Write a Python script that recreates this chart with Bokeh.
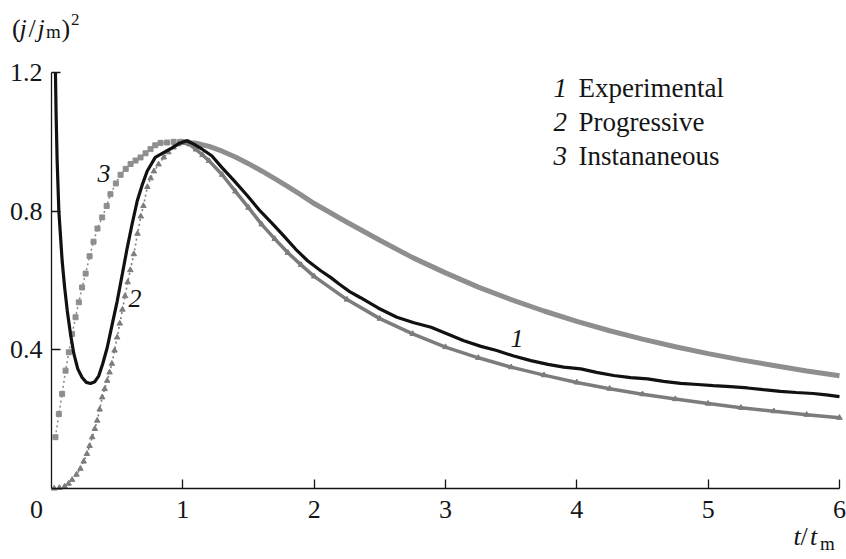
from bokeh.plotting import figure
from bokeh.models import FixedTicker, Label
from bokeh.embed import file_html
from bokeh.resources import INLINE

# ---------------- data ----------------
exp_t = [0.03, 0.035, 0.043, 0.056, 0.07, 0.081, 0.10, 0.12, 0.145, 0.17, 0.20, 0.233, 0.265,
         0.297, 0.33, 0.36, 0.39, 0.424, 0.46, 0.50, 0.54, 0.577, 0.615, 0.653, 0.69, 0.729,
         0.79, 0.85, 0.906, 0.97, 1.03, 1.08, 1.15, 1.22, 1.30, 1.39, 1.49, 1.59, 1.68, 1.77,
         1.86, 1.95, 2.05, 2.125, 2.19, 2.27, 2.35, 2.49, 2.63, 2.76, 2.89, 3.02, 3.14, 3.27,
         3.39, 3.52, 3.65, 3.78, 3.90, 4.03, 4.15, 4.28, 4.41, 4.54, 4.66, 4.79, 4.92, 5.04,
         5.17, 5.30, 5.42, 5.55, 5.67, 5.80, 5.90, 6.0]
exp_v = [1.2, 1.08, 0.945, 0.80, 0.72, 0.657, 0.58, 0.513, 0.445, 0.389, 0.345, 0.32, 0.306,
         0.303, 0.308, 0.325, 0.36, 0.406, 0.47, 0.54, 0.62, 0.695, 0.765, 0.83, 0.875, 0.916,
         0.955, 0.968, 0.98, 0.995, 1.003, 0.994, 0.978, 0.96, 0.925, 0.888, 0.845, 0.80, 0.765,
         0.728, 0.69, 0.657, 0.628, 0.609, 0.59, 0.568, 0.551, 0.52, 0.494, 0.478, 0.465, 0.445,
         0.426, 0.41, 0.398, 0.382, 0.369, 0.358, 0.35, 0.345, 0.335, 0.326, 0.32, 0.316, 0.309,
         0.303, 0.30, 0.297, 0.294, 0.29, 0.285, 0.28, 0.277, 0.274, 0.27, 0.265]

prog_t = [0.02, 0.06, 0.1, 0.13, 0.157, 0.19, 0.22, 0.245, 0.27, 0.29, 0.31, 0.33, 0.348, 0.367,
          0.386, 0.405, 0.424, 0.442, 0.46, 0.48, 0.50, 0.52, 0.54, 0.56, 0.58, 0.60, 0.627,
          0.655, 0.68, 0.70, 0.73, 0.755, 0.78, 0.815, 0.855, 0.89, 0.93, 0.965, 1.0,
          1.05, 1.1, 1.15, 1.2, 1.3, 1.4, 1.5, 1.6, 1.7, 1.8, 1.9, 2.0, 2.25, 2.5, 2.75, 3.0,
          3.25, 3.5, 3.75, 4.0, 4.25, 4.5, 4.75, 5.0, 5.25, 5.5, 5.75, 6.0]
prog_v = [0.0, 0.002, 0.006, 0.014, 0.025, 0.04, 0.057, 0.078, 0.10, 0.123, 0.148, 0.172, 0.196,
          0.228, 0.263, 0.287, 0.311, 0.335, 0.36, 0.398, 0.436, 0.476, 0.516, 0.555, 0.595,
          0.63, 0.676, 0.735, 0.785, 0.815, 0.87, 0.895, 0.915, 0.935, 0.955, 0.97, 0.984,
          0.993, 0.998, 0.993, 0.978, 0.962, 0.945, 0.905, 0.857, 0.81, 0.762, 0.72, 0.68,
          0.645, 0.612, 0.545, 0.49, 0.446, 0.408, 0.377, 0.35, 0.327, 0.306, 0.288, 0.272,
          0.258, 0.245, 0.233, 0.223, 0.213, 0.204]

inst_t = [0.03, 0.056, 0.081, 0.107, 0.132, 0.157, 0.183, 0.208, 0.233, 0.26, 0.29, 0.32, 0.35,
          0.386, 0.42, 0.449, 0.49, 0.526, 0.565, 0.602, 0.64, 0.678, 0.716, 0.754, 0.79, 0.83,
          0.88, 0.93, 0.98, 1.03, 1.1, 1.2, 1.3, 1.4, 1.5, 1.6, 1.7, 1.8, 1.9, 2.0, 2.25, 2.5,
          2.75, 3.0, 3.25, 3.5, 3.75, 4.0, 4.25, 4.5, 4.75, 5.0, 5.25, 5.5, 5.75, 6.0]
inst_v = [0.148, 0.215, 0.273, 0.34, 0.393, 0.446, 0.494, 0.537, 0.58, 0.62, 0.67, 0.712, 0.75,
          0.782, 0.815, 0.849, 0.88, 0.905, 0.922, 0.936, 0.946, 0.955, 0.967, 0.979, 0.99,
          0.997, 0.998, 1.0, 1.0, 0.999, 0.996, 0.987, 0.973, 0.956, 0.937, 0.916, 0.894,
          0.871, 0.847, 0.822, 0.768, 0.716, 0.666, 0.622, 0.581, 0.545, 0.512, 0.482, 0.455,
          0.431, 0.409, 0.389, 0.371, 0.355, 0.339, 0.325]

x_ticks = [1, 2, 3, 4, 5, 6]
y_ticks = [0.4, 0.8, 1.2]
x_bounds = (0, 6)
y_bounds = (0, 1.2)

legend_nums = ["1", "2", "3"]
legend_names = ["Experimental", "Progressive", "Instananeous"]

# ---------------- geometry (pixels of the page) ----------------
W, H = 846, 559
AX_X0, AX_X1 = 51, 839      # pixel columns of t = 0 and t = 6
AX_Y0, AX_Y1 = 488, 72      # pixel rows of 0 and 1.2
UX = (AX_X1 - AX_X0) / (x_bounds[1] - x_bounds[0])
UY = (AX_Y0 - AX_Y1) / (y_bounds[1] - y_bounds[0])
LAB_DY = 9.5                # renderer places alphabetic baseline this much lower

def X(px):
    return (px - AX_X0) / UX

def Y(py):
    return (AX_Y0 - py) / UY

FONT = "Liberation Serif"
INK = "#151515"

p = figure(width=W, height=H, output_backend="svg", toolbar_location=None,
           x_range=(X(0), X(W)), y_range=(Y(H), Y(0)),
           min_border=0, min_border_left=0, min_border_right=0,
           min_border_top=0, min_border_bottom=0)
p.xgrid.visible = False
p.ygrid.visible = False
p.outline_line_color = None
p.background_fill_color = "white"
p.border_fill_color = "white"

for ax, ticks, so, bnd in ((p.xaxis, x_ticks, 12, x_bounds), (p.yaxis, y_ticks, 9, y_bounds)):
    ax.ticker = FixedTicker(ticks=ticks)
    ax.fixed_location = 0
    ax.bounds = bnd
    ax.minor_tick_line_color = None
    ax.major_tick_in = 9
    ax.major_tick_out = 0
    ax.axis_line_color = INK
    ax.axis_line_width = 1.3
    ax.major_tick_line_color = INK
    ax.major_tick_line_width = 1.3
    ax.major_label_text_font = FONT
    ax.major_label_text_font_size = "26px"
    ax.major_label_text_color = INK
    ax.major_label_standoff = so

# ---------------- series ----------------
def split(ts, vs, lim):
    k = max(i for i, t in enumerate(ts) if t <= lim)
    return (ts[:k + 1], vs[:k + 1]), (ts[k:], vs[k:])

GRAY_SQ = "#8e8e8e"
GRAY_TR = "#7c7c7c"

(ie_t, ie_v), (il_t, il_v) = split(inst_t, inst_v, 1.03)
p.line(ie_t, ie_v, line_color=GRAY_SQ, line_width=1.6, line_dash="2 3")
p.scatter(ie_t, ie_v, marker="square", size=5, fill_color=GRAY_SQ, line_color=GRAY_SQ)
p.line(il_t, il_v, line_color=GRAY_SQ, line_width=5)

(pe_t, pe_v), (pl_t, pl_v) = split(prog_t, prog_v, 1.0)
p.line(pe_t, pe_v, line_color=GRAY_TR, line_width=1.6, line_dash="2 3")
p.scatter(pe_t, pe_v, marker="triangle", size=5.5, fill_color=GRAY_TR, line_color=GRAY_TR)
p.line(pl_t, pl_v, line_color=GRAY_TR, line_width=3.5)
p.scatter(pl_t, pl_v, marker="triangle", size=5.5, fill_color=GRAY_TR, line_color=GRAY_TR)

p.line(exp_t, exp_v, line_color="#111111", line_width=3.2)

# ---------------- texts ----------------
def lab(px, py, text, size="26px", style="normal", align="left"):
    p.add_layout(Label(x=X(px), y=Y(py - LAB_DY), text=text, text_font=FONT,
                       text_font_size=size, text_font_style=style, text_color=INK,
                       text_align=align, text_baseline="alphabetic"))

# origin label
lab(36, 518, "0", align="center")

# legend
for i, (n, name) in enumerate(zip(legend_nums, legend_names)):
    base = 96.7 + 34 * i
    lab(553, base, n, size="27px", style="italic")
    lab(578, base, name, size="27px")

# curve labels
lab(97, 182, "3", style="italic")
lab(128, 307, "2", style="italic")
lab(510, 347, "1", style="italic")

# y axis title (j/jm)^2
lab(11.5, 37, "(")
lab(19, 37, "j", style="italic")
lab(28, 37, "/")
lab(37, 37, "j", style="italic")
lab(45.5, 40, "m", size="19px")
lab(61, 37, ")")
lab(70.5, 28.5, "2", size="17px")

# x axis title t/tm
lab(793, 545, "t", style="italic")
lab(800, 545, "/")
lab(809.5, 545, "t", style="italic")
lab(819.5, 552, "m", size="19px")

open("out.html", "w").write(file_html(p, INLINE))
